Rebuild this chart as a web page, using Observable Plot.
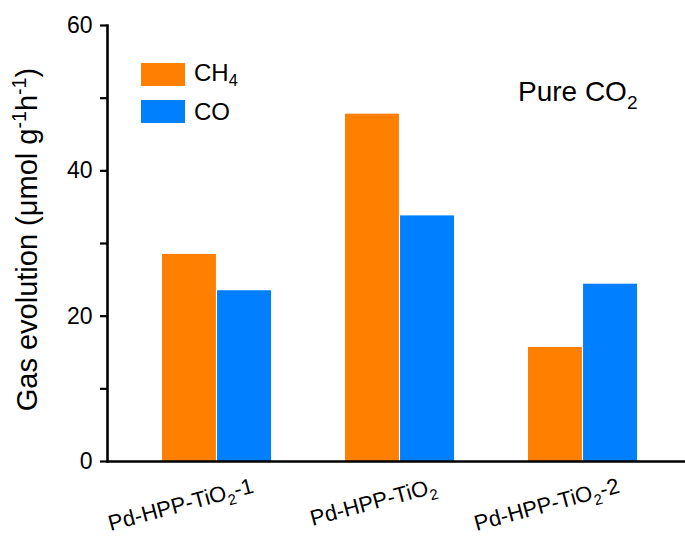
<!DOCTYPE html>
<html>
<head>
<meta charset="utf-8">
<script src="https://cdn.jsdelivr.net/npm/d3@7"></script>
<script src="https://cdn.jsdelivr.net/npm/@observablehq/plot@0.6"></script>
<style>
  body { margin: 0; background: #fff; }
  #chart { position: relative; width: 685px; height: 538px; font-family: "Liberation Sans", Arial, sans-serif; }
  #chart > svg { position: absolute; left: 0; top: 0; }
  #legend { position: absolute; left: 141px; top: 59px; }
  #legend, #legend * { font-family: "Liberation Sans", Arial, sans-serif; font-size: 24px; color: #000; }
  #legend svg { margin-right: 9px; }
  #legend div:has(> svg) { margin-bottom: 7px; }
  .sub { font-size: 0.68em !important; vertical-align: -0.3em; }
</style>
</head>
<body>
<div id="chart"><div id="legend"></div></div>
<script>
// Gas evolution rates of the three photocatalysts (µmol g⁻¹ h⁻¹)
const samples = ["Pd-HPP-TiO₂-1", "Pd-HPP-TiO₂", "Pd-HPP-TiO₂-2"];
const gases = ["CH₄", "CO"];
const ch4 = [28.5, 47.8, 15.7];
const co = [23.5, 33.8, 24.4];
const colors = ["#ff8000", "#0080ff"];
const yTicks = [0, 20, 40, 60];
const yMinorTicks = [10, 30, 50];
const yLabel = "Gas evolution (μmol g⁻¹h⁻¹)";
const note = "Pure CO₂";

const rows = samples.flatMap((s, i) => [
  {sample: s, gas: gases[0], value: ch4[i]},
  {sample: s, gas: gases[1], value: co[i]}
]);

// band layout for the sample groups; each group is split in two halves (CH4 | CO)
const xRange = [107, 692], padIn = 0.404, padOut = 0.3;
const step = (xRange[1] - xRange[0]) / (samples.length - padIn + 2 * padOut);
const half = step * (1 - padIn) / 2;

const chart = Plot.plot({
  width: 685,
  height: 538,
  marginLeft: 107,
  marginRight: 0,
  marginTop: 25,
  marginBottom: 77,
  style: {fontFamily: "Liberation Sans, Arial, sans-serif", fontSize: "20px", background: "white", color: "black", overflow: "visible"},
  x: {domain: samples, range: xRange, paddingInner: padIn, paddingOuter: padOut, label: null},
  y: {domain: [0, 60], label: null},
  color: {domain: gases, range: colors},
  marks: [
    Plot.barY(rows.filter(d => d.gas === gases[0]), {x: "sample", y: "value", fill: "gas", insetRight: half + 0.5}),
    Plot.barY(rows.filter(d => d.gas === gases[1]), {x: "sample", y: "value", fill: "gas", insetLeft: half + 0.5}),
    Plot.axisY(yTicks, {tickSize: 7, tickPadding: 8, strokeWidth: 2.2, fontSize: 23, label: null}),
    Plot.axisY(yMinorTicks, {tickSize: 7, strokeWidth: 2.2, tickFormat: () => "", label: null}),
    Plot.axisX({tickSize: 0, tickRotate: -15, tickPadding: 24, dx: 36, fontSize: 22, label: null}),
    Plot.text([yLabel], {frameAnchor: "left", textAnchor: "middle", rotate: -90, dx: -80, dy: -4, fontSize: 29, text: d => d}),
    Plot.text([note], {frameAnchor: "top-right", textAnchor: "end", lineAnchor: "middle", dx: -48, dy: 67, fontSize: 28, text: d => d}),
    Plot.ruleY([0], {strokeWidth: 2.6}),
    Plot.frame({anchor: "left", strokeWidth: 2.6})
  ]
});

const chartDiv = document.getElementById("chart");
chartDiv.insertBefore(chart, chartDiv.firstChild);

// turn Unicode sub/superscript digits into shifted, smaller tspans
const SUB = "₀₁₂₃₄₅₆₇₈₉", SUP = "⁰¹²³⁴⁵⁶⁷⁸⁹⁻", SUPN = "0123456789-";
function scriptRuns(s) {
  const runs = [];
  for (const ch of s) {
    let kind = "n", c = ch, k = SUB.indexOf(ch);
    if (k >= 0) { kind = "sub"; c = String(k); }
    else { k = SUP.indexOf(ch); if (k >= 0) { kind = "sup"; c = SUPN[k]; } }
    const last = runs[runs.length - 1];
    if (last && last.kind === kind) last.t += c; else runs.push({t: c, kind});
  }
  return runs;
}
chart.querySelectorAll("text").forEach(el => {
  if (el.children.length) return;
  const runs = scriptRuns(el.textContent);
  if (runs.every(r => r.kind === "n")) return;
  const fs = parseFloat(getComputedStyle(el).fontSize);
  el.textContent = "";
  let shift = 0;
  for (const r of runs) {
    const ts = document.createElementNS("http://www.w3.org/2000/svg", "tspan");
    const target = r.kind === "sub" ? 0.28 * fs : r.kind === "sup" ? -0.38 * fs : 0;
    if (target !== shift) ts.setAttribute("dy", target - shift);
    shift = target;
    if (r.kind !== "n") ts.setAttribute("font-size", 0.68 * fs);
    ts.textContent = r.t;
    el.appendChild(ts);
  }
});

const legend = Plot.legend({
  color: {domain: gases, range: colors},
  legend: "swatches",
  swatchWidth: 44,
  swatchHeight: 23,
  columns: 1
});
document.getElementById("legend").appendChild(legend);
const walker = document.createTreeWalker(legend, NodeFilter.SHOW_TEXT);
const textNodes = [];
while (walker.nextNode()) textNodes.push(walker.currentNode);
textNodes.forEach(node => {
  const runs = scriptRuns(node.textContent);
  if (runs.every(r => r.kind === "n")) return;
  const frag = document.createDocumentFragment();
  for (const r of runs) {
    if (r.kind === "n") frag.appendChild(document.createTextNode(r.t));
    else { const s = document.createElement("span"); s.className = "sub"; s.textContent = r.t; frag.appendChild(s); }
  }
  node.parentNode.replaceChild(frag, node);
});
</script>
</body>
</html>
